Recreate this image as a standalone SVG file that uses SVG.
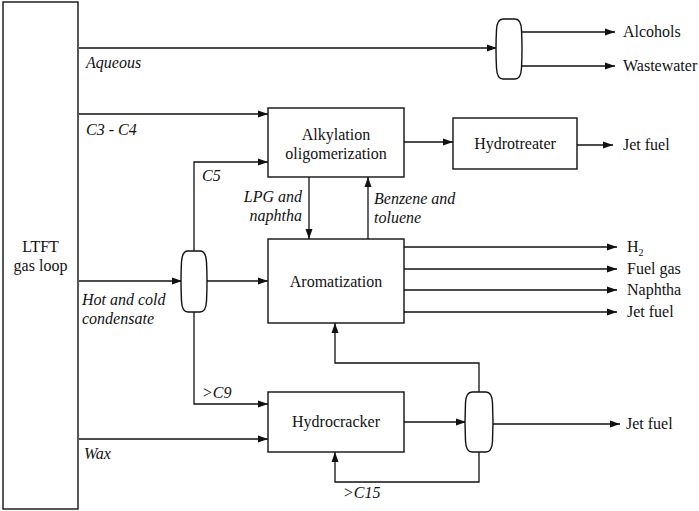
<svg xmlns="http://www.w3.org/2000/svg" width="699" height="511" viewBox="0 0 699 511">
<style>
.box{fill:#fff;stroke:#111;stroke-width:1.4}
.ln{fill:none;stroke:#111;stroke-width:1.3}
.arr{marker-end:url(#ah)}
.c{text-anchor:middle}
</style>
<defs>
<marker id="ah" markerUnits="userSpaceOnUse" markerWidth="10" markerHeight="8" refX="10" refY="4" orient="auto">
<path d="M0,0.5 L10,4 L0,7.5 z" fill="#111"/>
</marker>
</defs>
<rect width="699" height="511" fill="#fff"/>

<g id="connectors">
<path class="ln arr" d="M79,48 H497"/>
<path class="ln arr" d="M521,32 H615"/>
<path class="ln arr" d="M521,66 H615"/>
<path class="ln arr" d="M79,114 H268"/>
<path class="ln arr" d="M194,252 V162 H268"/>
<path class="ln arr" d="M309,177 V239"/>
<path class="ln arr" d="M368,239 V177"/>
<path class="ln arr" d="M404,142 H453"/>
<path class="ln arr" d="M577,145 H613"/>
<path class="ln arr" d="M79,281 H182"/>
<path class="ln arr" d="M206,281 H268"/>
<path class="ln arr" d="M404,247 H617"/>
<path class="ln arr" d="M404,269 H617"/>
<path class="ln arr" d="M404,290 H617"/>
<path class="ln arr" d="M404,312 H617"/>
<path class="ln arr" d="M194,312 V404 H268"/>
<path class="ln arr" d="M79,439 H268"/>
<path class="ln arr" d="M404,422 H466"/>
<path class="ln arr" d="M492,424 H620"/>
<path class="ln arr" d="M479,392 V363 H335 V323"/>
<path class="ln arr" d="M479,452 V482 H335 V452"/>
</g>

<g id="ltft">
<rect class="box" x="3" y="2" width="75" height="507"/>
<text class="c" x="40.5" y="252" font-family="Liberation Serif" font-size="16" fill="#111">LTFT</text>
<text class="c" x="40.5" y="271" font-family="Liberation Serif" font-size="16" fill="#111">gas loop</text>
</g>

<g id="sep1">
<path class="box" d="M503,19 H515 Q521,19 521.5,30 Q522.5,49 521.5,68 Q521,79 515,79 H503 Q497,79 496.5,68 Q495.5,49 496.5,30 Q497,19 503,19 Z"/>
</g>

<g id="sep2">
<path class="box" d="M188,251 H200 Q206,251 206.5,262 Q207.5,281.5 206.5,301 Q206,312 200,312 H188 Q182,312 181.5,301 Q180.5,281.5 181.5,262 Q182,251 188,251 Z"/>
</g>

<g id="sep3">
<path class="box" d="M472,392 H486 Q492,392 492.5,403 Q493.5,422 492.5,441 Q492,452 486,452 H472 Q466,452 465.5,441 Q464.5,422 465.5,403 Q466,392 472,392 Z"/>
</g>

<g id="alkylation">
<rect class="box" x="268" y="108" width="136" height="69"/>
<text class="c" x="336" y="140" font-family="Liberation Serif" font-size="16" fill="#111">Alkylation</text>
<text class="c" x="336" y="159" font-family="Liberation Serif" font-size="16" fill="#111">oligomerization</text>
</g>

<g id="hydrotreater">
<rect class="box" x="453" y="118" width="124" height="51"/>
<text class="c" x="515" y="149" font-family="Liberation Serif" font-size="16" fill="#111">Hydrotreater</text>
</g>

<g id="aromatization">
<rect class="box" x="268" y="239" width="136" height="84"/>
<text class="c" x="336" y="287" font-family="Liberation Serif" font-size="16" fill="#111">Aromatization</text>
</g>

<g id="hydrocracker">
<rect class="box" x="268" y="392" width="136" height="60"/>
<text class="c" x="336" y="427" font-family="Liberation Serif" font-size="16" fill="#111">Hydrocracker</text>
</g>

<g id="labels">
<text x="86" y="68" font-family="Liberation Serif" font-size="16" font-style="italic" fill="#111">Aqueous</text>
<text x="86" y="135" font-family="Liberation Serif" font-size="16" font-style="italic" fill="#111">C3 - C4</text>
<text x="202" y="181" font-family="Liberation Serif" font-size="16" font-style="italic" fill="#111">C5</text>
<text x="302" y="202" text-anchor="end" font-family="Liberation Serif" font-size="16" font-style="italic" fill="#111">LPG and</text>
<text x="302" y="221" text-anchor="end" font-family="Liberation Serif" font-size="16" font-style="italic" fill="#111">naphtha</text>
<text x="374" y="204" font-family="Liberation Serif" font-size="16" font-style="italic" fill="#111">Benzene and</text>
<text x="374" y="223" font-family="Liberation Serif" font-size="16" font-style="italic" fill="#111">toluene</text>
<text x="82" y="305" font-family="Liberation Serif" font-size="16" font-style="italic" fill="#111">Hot and cold</text>
<text x="82" y="324" font-family="Liberation Serif" font-size="16" font-style="italic" fill="#111">condensate</text>
<text x="202" y="398" font-family="Liberation Serif" font-size="16" font-style="italic" fill="#111">&gt;C9</text>
<text x="84" y="459" font-family="Liberation Serif" font-size="16" font-style="italic" fill="#111">Wax</text>
<text x="343" y="498" font-family="Liberation Serif" font-size="16" font-style="italic" fill="#111">&gt;C15</text>
</g>

<g id="outputs">
<text x="623" y="37" font-family="Liberation Serif" font-size="16" fill="#111">Alcohols</text>
<text x="623" y="71" font-family="Liberation Serif" font-size="16" fill="#111">Wastewater</text>
<text x="623" y="150" font-family="Liberation Serif" font-size="16" fill="#111">Jet fuel</text>
<text x="627" y="252" font-family="Liberation Serif" font-size="16" fill="#111">H<tspan font-size="10" dy="4">2</tspan></text>
<text x="627" y="274" font-family="Liberation Serif" font-size="16" fill="#111">Fuel gas</text>
<text x="627" y="295" font-family="Liberation Serif" font-size="16" fill="#111">Naphtha</text>
<text x="627" y="317" font-family="Liberation Serif" font-size="16" fill="#111">Jet fuel</text>
<text x="626" y="429" font-family="Liberation Serif" font-size="16" fill="#111">Jet fuel</text>
</g>
</svg>
